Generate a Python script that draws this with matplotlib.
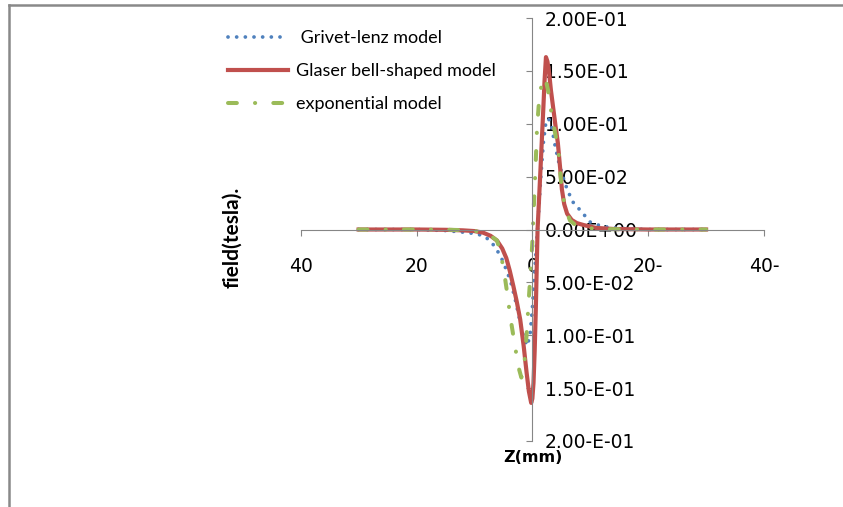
import matplotlib.pyplot as plt
from matplotlib.lines import Line2D

# z positions (mm) and field values (tesla)
z_grivet = [-30, -20, -15, -12, -11.2, -9.8, -8.4, -7.2, -6.4, -5.5, -4.9, -3.8,
            -3.0, -2.2, -1.5, -0.9, -0.4, 0.0, 0.4, 0.9, 1.4, 1.9, 2.3, 2.8,
            3.3, 3.9, 4.5, 5.1, 6.0, 7.0, 8.3, 10, 12, 15, 20, 30]
b_grivet = [0, 0, -0.001, -0.0025, -0.003, -0.004, -0.006, -0.011, -0.017, -0.025,
            -0.0325, -0.048, -0.065, -0.085, -0.102, -0.110, -0.100, -0.075, -0.040,
            0.0, 0.045, 0.082, 0.100, 0.105, 0.098, 0.080, 0.065, 0.053, 0.038,
            0.026, 0.018, 0.007, 0.003, 0.001, 0, 0]

z_glaser = [-30, -20, -15, -12, -10, -8.5, -7.2, -6.1, -5.2, -4.5, -3.9, -3.3,
            -2.7, -2.1, -1.5, -1.0, -0.6, -0.2, 0.0, 0.2, 0.4, 0.6, 0.8, 0.9,
            1.1, 1.3, 1.5, 1.7, 1.9, 2.1, 2.35, 2.6, 2.9, 3.2, 3.6, 4.0, 4.4,
            4.8, 5.1, 5.5, 6.0, 6.8, 7.7, 9, 11, 14, 20, 30]
b_glaser = [0, 0, -0.0003, -0.0008, -0.0015, -0.003, -0.006, -0.0105, -0.018,
            -0.027, -0.039, -0.053, -0.068, -0.085, -0.110, -0.135, -0.153, -0.164,
            -0.160, -0.145, -0.115, -0.075, -0.025, 0.0, 0.022, 0.045, 0.068,
            0.092, 0.115, 0.140, 0.163, 0.159, 0.148, 0.132, 0.115, 0.098, 0.082,
            0.058, 0.038, 0.024, 0.015, 0.009, 0.006, 0.004, 0.0015, 0.0005, 0, 0]

z_expo = [-30, -20, -15, -12, -10, -8.5, -7.2, -6.1, -5.5, -4.9, -4.3, -3.8,
          -3.0, -2.4, -1.9, -1.4, -1.0, -0.6, -0.3, 0.0, 0.2, 0.5, 0.8, 1.2,
          1.7, 2.2, 2.7, 3.27, 3.9, 4.5, 4.8, 5.1, 5.7, 6.5, 7.5, 9, 12, 20, 30]
b_expo = [0, 0, -0.0002, -0.0006, -0.0013, -0.003, -0.006, -0.0104, -0.022,
          -0.039, -0.062, -0.083, -0.110, -0.130, -0.140, -0.128, -0.100, -0.065,
          -0.040, -0.012, 0.015, 0.052, 0.095, 0.125, 0.140, 0.144, 0.132, 0.111,
          0.092, 0.075, 0.055, 0.037, 0.0196, 0.0085, 0.004, 0.0015, 0.0004, 0, 0]

y_ticks = [-0.2, -0.15, -0.1, -0.05, 0, 0.05, 0.1, 0.15, 0.2]
y_labels = ['2.00-E-01', '1.50-E-01', '1.00-E-01', '5.00-E-02', '0.00E+00',
            '5.00E-02', '1.00E-01', '1.50E-01', '2.00E-01']
x_ticks = [-40, -20, 0, 20, 40]
x_labels = ['40', '20', '0', '20-', '40-']

fig = plt.figure(figsize=(8.43, 5.07), dpi=100)
ax = fig.add_axes([300.7 / 843, 1 - 441 / 507, 463.3 / 843, 423 / 507])

ax.plot(z_grivet, b_grivet, color='#4F81BD', lw=2.7,
        linestyle=(0, (0.01, 2.3)), dash_capstyle='round',
        label=' Grivet-lenz model')
ax.plot(z_glaser, b_glaser, color='#C0504D', lw=3.0,
        label='Glaser bell-shaped model')
ax.plot(z_expo, b_expo, color='#9BBB59', lw=2.9,
        linestyle=(0, (2.2, 4.5, 0.05, 4.5)), dash_capstyle='round',
        label='exponential model')

ax.set_xlim(-40, 40)
ax.set_ylim(-0.2, 0.2)

axis_grey = '#868686'
ax.spines['top'].set_visible(False)
ax.spines['left'].set_position(('data', 0))
ax.spines['right'].set_position(('data', 0))
ax.spines['right'].set_visible(False)
ax.spines['bottom'].set_position(('data', 0))
ax.spines['left'].set_color(axis_grey)
ax.spines['bottom'].set_color(axis_grey)

ax.set_yticks(y_ticks)
ax.set_yticklabels(y_labels, family='DejaVu Sans')
ax.set_xticks(x_ticks)
ax.set_xticklabels(x_labels, family='DejaVu Sans')
ax.tick_params(axis='y', left=True, right=False, labelleft=False,
               labelright=True, direction='out', length=4, color=axis_grey,
               pad=5, labelsize=13.5)
ax.tick_params(axis='x', direction='out', length=4, color=axis_grey,
               pad=16, labelsize=13.5)

fig.text(533 / 843, 1 - 458 / 507, 'Z(mm)', ha='center', va='center',
         fontsize=11.5, fontweight='bold',
         family=['Liberation Sans Narrow', 'DejaVu Sans'])
fig.text(232 / 843, 1 - 237 / 507, 'field(tesla).', ha='center', va='center',
         rotation=90, fontsize=15, fontweight='bold', family='Lato')

fig.legend(loc='upper left', bbox_to_anchor=(228 / 843, 1 - 30 / 507),
           frameon=False, borderpad=0, borderaxespad=0, handlelength=3.3,
           handletextpad=0.45, labelspacing=0.95,
           prop={'family': 'Lato', 'size': 13})

# chart border (top and left edges)
fig.add_artist(Line2D([8.5 / 843, 1], [1 - 4.5 / 507, 1 - 4.5 / 507],
                      color='#898989', lw=1.8))
fig.add_artist(Line2D([8.5 / 843, 8.5 / 843], [0, 1 - 4.5 / 507],
                      color='#898989', lw=1.8))

fig.savefig('out.png', dpi=100)
